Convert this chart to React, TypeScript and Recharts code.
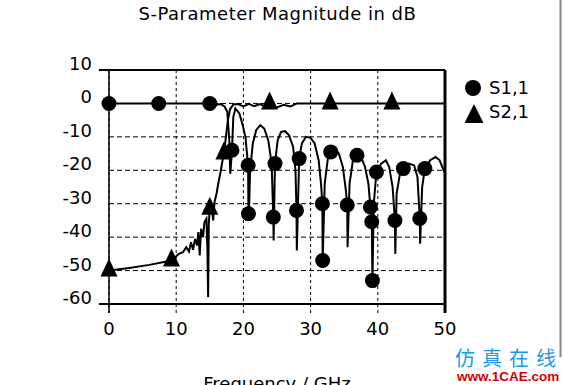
import { ComposedChart, Line, XAxis, YAxis, CartesianGrid, ReferenceLine } from "recharts";

// frequency (GHz), magnitude (dB)
const s11: [number, number][] = [
  [0, 0], [7.4, 0], [15, 0], [16, -0.4], [16.6, -0.2], [17.2, -0.9], [17.6, -2.5], [17.9, -11],
  [18.05, -21], [18.3, -14], [18.5, -4], [18.8, -1.5], [19.4, -3], [19.9, -6.5], [20.3, -10],
  [20.7, -18.5], [20.75, -33], [20.8, -35], [21.0, -20], [21.4, -12], [21.9, -8], [22.5, -6.5],
  [23.1, -7.5], [23.7, -11], [24.2, -18], [24.45, -34], [24.5, -41], [24.7, -18], [25.1, -11],
  [25.6, -8.5], [26.2, -8.3], [26.8, -9.5], [27.4, -13], [27.75, -20], [27.9, -32], [27.95, -44],
  [28.3, -16.5], [28.7, -12], [29.3, -10], [30.0, -10.3], [30.6, -12], [31.2, -17], [31.55, -24],
  [31.75, -30], [31.8, -47], [32.1, -24], [32.6, -16], [33.0, -14.5], [33.6, -13.5], [34.2, -15],
  [34.8, -19], [35.25, -26], [35.45, -30.4], [35.5, -43], [35.8, -24], [36.3, -17], [36.9, -15.5],
  [37.5, -16], [38.1, -19], [38.6, -24], [38.9, -31], [39.1, -35.4], [39.2, -53], [39.4, -30],
  [39.8, -20.5], [40.5, -18], [41.2, -17], [41.7, -19], [42.2, -25], [42.55, -35], [42.6, -45],
  [42.8, -27], [43.3, -21], [43.8, -19.5], [44.6, -18], [45.4, -18.5], [45.9, -22], [46.25, -34.4],
  [46.3, -42], [46.6, -25], [47.0, -19.5], [47.8, -17], [48.6, -16], [49.2, -17], [50, -21],
];

const s21: [number, number][] = [
  [0, -50], [3, -49.2], [6, -48.3], [9.3, -47], [10.4, -45], [11.0, -44.5], [11.5, -43],
  [11.9, -44.3], [12.2, -41.5], [12.5, -43.8], [12.8, -40.5], [13.1, -42.5], [13.3, -38.5],
  [13.5, -45.5], [13.7, -37.5], [14.0, -40], [14.2, -35.5], [14.5, -34.5], [14.65, -44],
  [14.75, -58], [14.85, -36], [15.0, -31.5], [15.3, -31], [15.5, -35], [15.7, -29.5], [16.0, -27],
  [16.3, -23.5], [16.6, -20.5], [16.9, -17], [17.1, -15], [17.4, -10], [17.7, -5], [18.0, -1.8],
  [18.5, -0.3], [19.2, -0.2], [20.0, -0.9], [20.8, -0.1], [21.6, -0.8], [22.5, -0.2], [23.3, -1.0],
  [24.0, -0.3], [25.0, -1.2], [26.0, -0.4], [27.0, -0.9], [28.0, 0], [50, 0],
];

// points where the markers sit
const s11Marks: [number, number][] = [
  [0, 0], [7.4, 0], [15, 0], [18.3, -14], [20.7, -18.5], [20.75, -33], [24.7, -18], [24.45, -34],
  [28.3, -16.5], [27.9, -32], [31.75, -30], [31.8, -47], [33.0, -14.5], [35.45, -30.4],
  [36.9, -15.5], [38.9, -31], [39.1, -35.4], [39.2, -53], [39.8, -20.5], [42.55, -35],
  [43.8, -19.5], [46.25, -34.4], [47.0, -19.5],
];
const s21Marks: [number, number][] = [
  [0, -50], [9.3, -47], [15.0, -31.5], [17.1, -15], [23.9, 0], [32.9, 0], [42.1, 0],
];

const seriesNames = ["S1,1", "S2,1"];
const xTicks = [0, 10, 20, 30, 40, 50];
const yTicks = [10, 0, -10, -20, -30, -40, -50, -60];

const toRows = (pts: [number, number][]) => pts.map(([f, db]) => ({ f, db }));

const FONT = "DejaVu Sans, Verdana, sans-serif";

const circleDot = (p: any) => <circle key={p.index} cx={p.cx} cy={p.cy} r={7.5} fill="#000" />;
const triDot = (p: any) => (
  <path
    key={p.index}
    d={`M${p.cx},${p.cy - 12}L${p.cx + 8.5},${p.cy + 6}L${p.cx - 8.5},${p.cy + 6}Z`}
    fill="#000"
  />
);

const YTick = (p: any) => (
  <text x={p.x} y={p.y} textAnchor="end" fontSize={18} fontFamily={FONT} fill="#000">
    {p.payload.value}
  </text>
);
const XTick = (p: any) => (
  <text x={p.x} y={p.y} dy={13.5} textAnchor="middle" fontSize={18} fontFamily={FONT} fill="#000">
    {p.payload.value}
  </text>
);

export default function App() {
  return (
    <div style={{ position: "absolute", left: 0, top: 0, width: 564, height: 385, background: "#fff", overflow: "hidden" }}>
      <ComposedChart width={564} height={385} margin={{ top: 70, right: 119, bottom: 0, left: 49 }}>
        <CartesianGrid vertical={false} stroke="#000" strokeDasharray="5 3" />
        <CartesianGrid horizontal={false} stroke="#000" strokeDasharray="3 3" />
        <XAxis
          dataKey="f"
          type="number"
          domain={[0, 50]}
          ticks={xTicks}
          height={81}
          axisLine={false}
          tickSize={9}
          tickMargin={8}
          tickLine={{ stroke: "#000", strokeDasharray: "3 3" }}
          tick={XTick}
          label={{ value: "Frequency / GHz", position: "insideBottom", offset: -5, fontSize: 18, fontFamily: FONT, fill: "#000" }}
        />
        <YAxis
          type="number"
          domain={[-60, 10]}
          ticks={yTicks}
          width={60}
          axisLine={false}
          tickLine={false}
          tickSize={6}
          tickMargin={11}
          tick={YTick}
        />
        <ReferenceLine segment={[{ x: -1.5, y: 10 }, { x: 50, y: 10 }]} stroke="#000" strokeWidth={2} ifOverflow="visible" />
        <ReferenceLine segment={[{ x: -1.5, y: -60 }, { x: 50, y: -60 }]} stroke="#000" strokeWidth={2} ifOverflow="visible" />
        <ReferenceLine segment={[{ x: 0, y: 10 }, { x: 0, y: -62.7 }]} stroke="#000" strokeWidth={1.5} ifOverflow="visible" />
        <ReferenceLine segment={[{ x: 50, y: 10 }, { x: 50, y: -62.7 }]} stroke="#000" strokeWidth={3} ifOverflow="visible" />
        <Line data={toRows(s21)} dataKey="db" name={seriesNames[1]} stroke="#000" strokeWidth={2} dot={false} activeDot={false} isAnimationActive={false} />
        <Line data={toRows(s11)} dataKey="db" name={seriesNames[0]} stroke="#000" strokeWidth={2} dot={false} activeDot={false} isAnimationActive={false} />
        <Line data={toRows(s11Marks)} dataKey="db" stroke="none" dot={circleDot} activeDot={false} isAnimationActive={false} />
        <Line data={toRows(s21Marks)} dataKey="db" stroke="none" dot={triDot} activeDot={false} isAnimationActive={false} />
      </ComposedChart>
      <svg width={564} height={385} style={{ position: "absolute", left: 0, top: 0, pointerEvents: "none" }}>
        <text x={277.5} y={20} textAnchor="middle" fontSize={18} letterSpacing={0.5} fontFamily={FONT} fill="#000">
          S-Parameter Magnitude in dB
        </text>
        {/* legend */}
        <circle cx={473} cy={88} r={8} fill="#000" />
        <text x={489} y={94} fontSize={18} fontFamily={FONT} fill="#000">{seriesNames[0]}</text>
        <path d="M474,104L483.5,123L464.5,123Z" fill="#000" />
        <text x={489} y={118} fontSize={18} fontFamily={FONT} fill="#000">{seriesNames[1]}</text>
        <line x1={560.5} y1={0} x2={560.5} y2={357} stroke="#888" strokeWidth={2} />
        <text x={455} y={366} fontSize={20} letterSpacing={7} fontFamily="Noto Sans CJK SC" fill="#1a9ae6">
          仿真在线
        </text>
        <text x={457} y={381} fontSize={13.5} fontWeight="bold" fontFamily="Liberation Sans, Arial, sans-serif" fill="#d40000">
          www.1CAE.com
        </text>
      </svg>
    </div>
  );
}
